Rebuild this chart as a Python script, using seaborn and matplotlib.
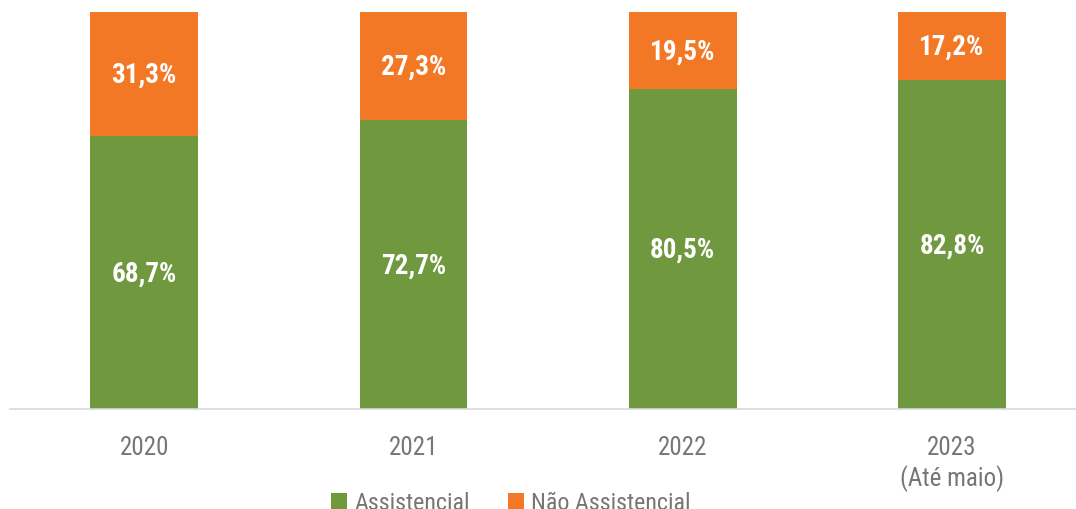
import matplotlib
matplotlib.use("Agg")
import matplotlib.pyplot as plt
import seaborn as sns
import pandas as pd
from matplotlib.patches import Patch

categories = ["2020", "2021", "2022", "2023\n(Até maio)"]
assistencial = [68.7, 72.7, 80.5, 82.8]
nao_assistencial = [31.3, 27.3, 19.5, 17.2]
series_names = ["Assistencial", "Não Assistencial"]

GREEN = "#70993F"
ORANGE = "#F37826"
GRAY = "#767676"

sns.set_theme(style="white")
plt.rcParams["font.family"] = ["Roboto Condensed", "DejaVu Sans"]

df = pd.DataFrame({
    "cat": categories,
    "assist": assistencial,
    "nao": nao_assistencial,
})
df["total"] = df["assist"] + df["nao"]

fig = plt.figure(figsize=(10.76, 5.10), dpi=100)
ax = fig.add_axes([10 / 1076, 100 / 510, 1066 / 1076, 410 / 510])

sns.barplot(data=df, x="cat", y="total", color=ORANGE, width=0.4,
            saturation=1, ax=ax, linewidth=0)
sns.barplot(data=df, x="cat", y="assist", color=GREEN, width=0.4,
            saturation=1, ax=ax, linewidth=0)

for i, (a, n) in enumerate(zip(assistencial, nao_assistencial)):
    ax.text(i, a / 2, f"{a:.1f}%".replace(".", ","), ha="center", va="center",
            color="white", fontsize=19.5, fontweight="bold")
    ax.text(i, a + n / 2, f"{n:.1f}%".replace(".", ","), ha="center", va="center",
            color="white", fontsize=19.5, fontweight="bold")

ax.set_ylim(0, 100 * 410 / 397)
ax.set_xlim(-0.498, 3.46)
ax.set_xlabel("")
ax.set_ylabel("")
ax.set_yticks([])
ax.tick_params(axis="x", length=0, pad=18.5, labelsize=18, labelcolor=GRAY)
for lbl in ax.get_xticklabels():
    lbl.set_linespacing(1.25)
for s in ["top", "right", "left"]:
    ax.spines[s].set_visible(False)
ax.spines["bottom"].set_color("#D9D9D9")
ax.spines["bottom"].set_linewidth(1.2)

handles = [Patch(facecolor=GREEN, edgecolor="none"),
           Patch(facecolor=ORANGE, edgecolor="none")]
fig.legend(handles, series_names, loc="center", bbox_to_anchor=(511 / 1076, 6 / 510),
           ncol=2, frameon=False, fontsize=17.3, labelcolor=GRAY,
           handlelength=0.65, handleheight=0.65, handletextpad=0.3,
           columnspacing=1.6)

fig.savefig("out.png", dpi=100)
